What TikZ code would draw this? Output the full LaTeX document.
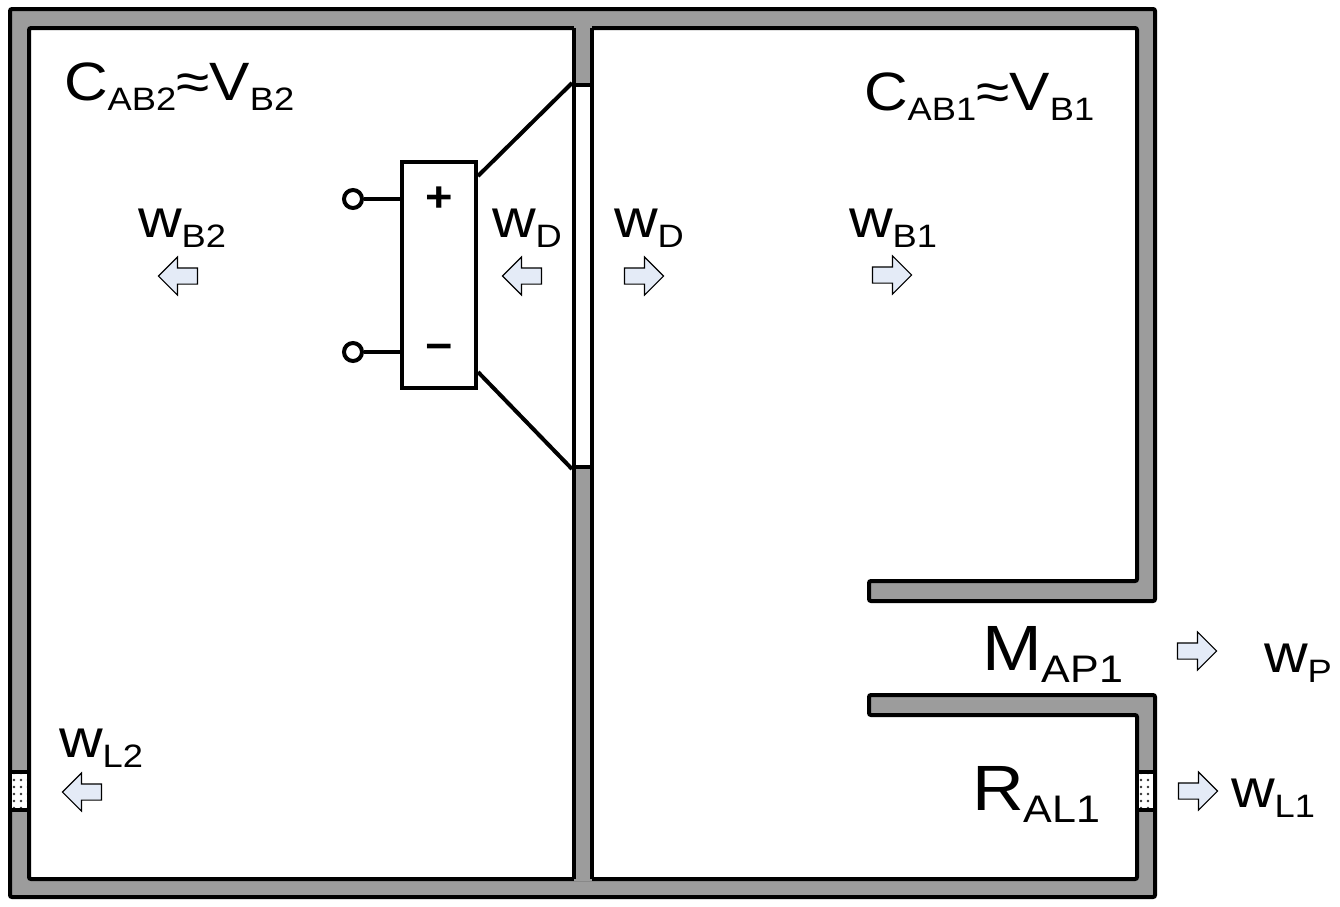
\documentclass[tikz,border=0pt]{standalone}
\usepackage{fontspec}
\setmainfont{Liberation Sans}[FakeStretch=1.12]
\usetikzlibrary{positioning, shapes.arrows, patterns.meta}

\definecolor{wallgray}{HTML}{9C9C9C}
\definecolor{flowblue}{HTML}{E4EBF7}

\newcommand{\lsub}[1]{\raisebox{-0.19em}{\scalebox{0.6}{#1}}}

\begin{document}
\begin{tikzpicture}[
    x=1pt, y=-1pt,
    line width=4pt,
    wall/.style={draw, fill=wallgray, rounded corners=2pt},
    leak/.style={draw, preaction={fill=white}, pattern={Dots[radius=1.3pt, distance=7pt]}, pattern color=black!80},
    flow/.style={single arrow, draw, fill=flowblue, line width=1.1pt, minimum height=39pt, inner xsep=0pt, inner ysep=7.5pt, single arrow head extend=11pt},
    flowL/.style={flow, shape border rotate=180},
    lbl/.style={inner sep=0pt, anchor=base west, font=\fontsize{54}{60}\selectfont},
    biglbl/.style={lbl, font=\fontsize{64}{70}\selectfont},
    terminal/.style={circle, draw, fill=white, minimum size=18pt, inner sep=0pt},
    sign/.style={font=\fontsize{42}{46}\selectfont\bfseries}
]
    \useasboundingbox (0,0) rectangle (1340,906);

    % Box walls, open at the port
    \draw[wall] (869,581) -- (1137,581) -- (1137,28) -- (29,28) -- (29,879)
        -- (1137,879) -- (1137,715) -- (869,715) -- (869,695) -- (1155,695)
        -- (1155,897) -- (10,897) -- (10,9) -- (1155,9) -- (1155,601)
        -- (869,601) -- cycle;
    % Baffle
    \fill[wallgray] (574,26) rectangle (592,881);
    \draw (574,28) -- (574,879) (592,28) -- (592,879);
    % Leaks
    \draw[leak] (10,772) rectangle (29,810);
    \draw[leak] (1137,772) rectangle (1155,810);

    % Driver
    \node[draw, fill=white, minimum width=18pt, minimum height=382pt, inner sep=0pt] (cone) at (583,276) {};
    \node[draw, fill=white, minimum width=74pt, minimum height=226pt, inner sep=0pt] (motor) at (439,275) {};
    \draw ([yshift=-16pt]motor.north east) -- (cone.north west);
    \draw ([yshift=18pt]motor.south east) -- (cone.south west);
    \node[terminal] (tplus) at (353,199) {};
    \node[terminal] (tminus) at (353,352) {};
    \draw (tplus) -- (tplus -| motor.west);
    \draw (tminus) -- (tminus -| motor.west);
    \node[sign] (plus) at (tplus -| motor) {+};
    \node[sign] (minus) at (tminus -| motor) {−};

    % Labels
    \node[lbl] (cab2) at (62,100) {C\lsub{AB2}≈V\lsub{B2}};
    \node[lbl] (cab1) at (862,110) {C\lsub{AB1}≈V\lsub{B1}};
    \node[lbl] (wb2) at (136,237) {w\lsub{B2}};
    \node[lbl] (wdl) at (490,237) {w\lsub{D}};
    \node[lbl] (wdr) at (612,237) {w\lsub{D}};
    \node[lbl] (wb1) at (847,237) {w\lsub{B1}};
    \node[lbl] (wl2) at (57,757) {w\lsub{L2}};
    \node[lbl] (wp) at (1262,672) {w\lsub{P}};
    \node[lbl] (wl1) at (1229,807) {w\lsub{L1}};
    \node[biglbl] (map1) at (980,670) {M\lsub{AP1}};
    \node[biglbl] (ral1) at (970,810) {R\lsub{AL1}};

    % Flow arrows
    \node[flowL] (fb2) at (182,276) {};
    \node[flowL] (fdl) at (526,276) {};
    \node[flow] (fdr) at (640,276) {};
    \node[flow] (fb1) at (888,275) {};
    \node[flowL] (fl2) at (86,792) {};
    \node[flow] (fp) at (1193,651) {};
    \node[flow] (fl1) at (1194,791) {};
\end{tikzpicture}
\end{document}
